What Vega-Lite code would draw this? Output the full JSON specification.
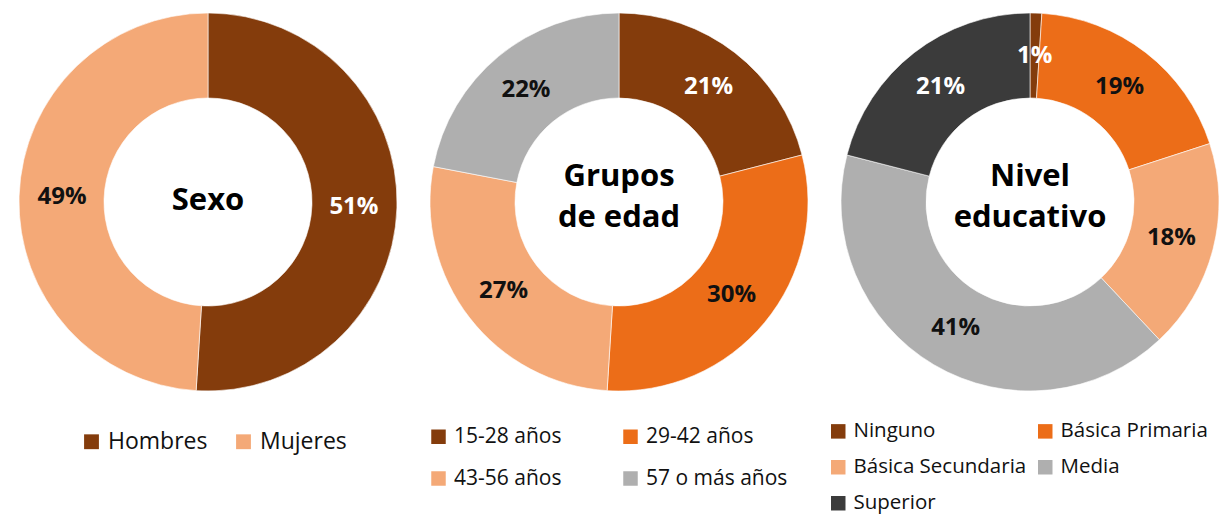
{
  "$schema": "https://vega.github.io/schema/vega-lite/v6.json",
  "width": 1219,
  "height": 404,
  "padding": 0,
  "autosize": {"type": "pad"},
  "background": "white",
  "config": {"view": {"stroke": null}, "font": "Open Sans"},
  "datasets": {
    "d": [
      {"chart": "Sexo", "cat": "Hombres", "value": 0.51, "o": 1},
      {"chart": "Sexo", "cat": "Mujeres", "value": 0.49, "o": 2},
      {"chart": "Grupos", "cat": "15-28 años", "value": 0.21, "o": 1},
      {"chart": "Grupos", "cat": "29-42 años", "value": 0.30, "o": 2},
      {"chart": "Grupos", "cat": "43-56 años", "value": 0.27, "o": 3},
      {"chart": "Grupos", "cat": "57 o más años", "value": 0.22, "o": 4},
      {"chart": "Nivel", "cat": "Ninguno", "value": 0.01, "o": 1},
      {"chart": "Nivel", "cat": "Básica Primaria", "value": 0.19, "o": 2},
      {"chart": "Nivel", "cat": "Básica Secundaria", "value": 0.18, "o": 3},
      {"chart": "Nivel", "cat": "Media", "value": 0.41, "o": 4},
      {"chart": "Nivel", "cat": "Superior", "value": 0.21, "o": 5}
    ],
    "titles1": [
      {"chart": "Sexo", "t": "Sexo"}
    ],
    "titles2": [
      {"chart": "Grupos", "t": "Grupos\nde edad"},
      {"chart": "Nivel", "t": "Nivel\neducativo"}
    ]
  },
  "encoding": {
    "x": {"field": "chart", "type": "nominal", "axis": null,
          "scale": {"type": "point", "domain": ["Sexo", "Grupos", "Nivel"], "range": [208, 1030], "padding": 0}}
  },
  "layer": [
    {
      "data": {"name": "d"},
      "transform": [{"filter": "datum.chart === 'Sexo'"}],
      "mark": {"type": "arc", "radius": 189, "innerRadius": 104, "stroke": "white", "strokeWidth": 0.6},
      "encoding": {
        "theta": {"field": "value", "type": "quantitative", "stack": true},
        "order": {"field": "o", "type": "quantitative"},
        "color": {"field": "cat", "type": "nominal",
          "scale": {"domain": ["Hombres", "Mujeres"], "range": ["#843C0C", "#F4A977"]},
          "legend": {"title": null, "orient": "none", "legendX": 80, "legendY": 430, "direction": "horizontal", "columns": 2,
            "symbolType": "square", "symbolSize": 220, "symbolStrokeWidth": 0, "labelFontSize": 23, "labelFont": "Open Sans", "labelColor": "#111111",
            "labelOffset": 5, "columnPadding": 24, "labelLimit": 300}}
      }
    },
    {
      "data": {"name": "d"},
      "transform": [{"filter": "datum.chart === 'Grupos'"}],
      "mark": {"type": "arc", "radius": 189, "innerRadius": 104, "stroke": "white", "strokeWidth": 0.6},
      "encoding": {
        "theta": {"field": "value", "type": "quantitative", "stack": true},
        "order": {"field": "o", "type": "quantitative"},
        "color": {"field": "cat", "type": "nominal",
          "scale": {"domain": ["15-28 años", "29-42 años", "43-56 años", "57 o más años"], "range": ["#843C0C", "#EC6D18", "#F4A977", "#AFAFAF"]},
          "legend": {"title": null, "orient": "none", "legendX": 428, "legendY": 426, "direction": "horizontal", "columns": 2,
            "symbolType": "square", "symbolSize": 210, "symbolStrokeWidth": 0, "labelFontSize": 21, "labelFont": "Open Sans", "labelColor": "#111111",
            "labelOffset": 5, "columnPadding": 58, "rowPadding": 20, "labelLimit": 300}}
      }
    },
    {
      "data": {"name": "d"},
      "transform": [{"filter": "datum.chart === 'Nivel'"}],
      "mark": {"type": "arc", "radius": 189, "innerRadius": 104, "stroke": "white", "strokeWidth": 0.6},
      "encoding": {
        "theta": {"field": "value", "type": "quantitative", "stack": true},
        "order": {"field": "o", "type": "quantitative"},
        "color": {"field": "cat", "type": "nominal",
          "scale": {"domain": ["Ninguno", "Básica Primaria", "Básica Secundaria", "Media", "Superior"], "range": ["#843C0C", "#EC6D18", "#F4A977", "#AFAFAF", "#3B3B3B"]},
          "legend": {"title": null, "orient": "none", "legendX": 828, "legendY": 421, "direction": "horizontal", "columns": 2,
            "symbolType": "square", "symbolSize": 210, "symbolStrokeWidth": 0, "labelFontSize": 20.5, "labelFont": "Open Sans", "labelColor": "#111111",
            "labelOffset": 5, "columnPadding": 8, "rowPadding": 15, "labelLimit": 300}}
      }
    },
    {
      "data": {"name": "d"},
      "transform": [{"filter": "datum.chart === 'Sexo'"}],
      "mark": {"type": "text", "radius": 146, "fontSize": 24, "fontWeight": "bold", "font": "Open Sans"},
      "encoding": {
        "theta": {"field": "value", "type": "quantitative", "stack": true},
        "order": {"field": "o", "type": "quantitative"},
        "detail": {"field": "cat", "type": "nominal"},
        "text": {"field": "value", "type": "quantitative", "format": ".0%"},
        "color": {"condition": {"test": "datum.cat === 'Hombres'", "value": "white"}, "value": "#111111"}
      }
    },
    {
      "data": {"name": "d"},
      "transform": [{"filter": "datum.chart === 'Grupos'"}],
      "mark": {"type": "text", "radius": 146, "fontSize": 24, "fontWeight": "bold", "font": "Open Sans"},
      "encoding": {
        "theta": {"field": "value", "type": "quantitative", "stack": true},
        "order": {"field": "o", "type": "quantitative"},
        "detail": {"field": "cat", "type": "nominal"},
        "text": {"field": "value", "type": "quantitative", "format": ".0%"},
        "color": {"condition": {"test": "datum.cat === '15-28 años'", "value": "white"}, "value": "#111111"}
      }
    },
    {
      "data": {"name": "d"},
      "transform": [{"filter": "datum.chart === 'Nivel'"}],
      "mark": {"type": "text", "radius": 146, "fontSize": 24, "fontWeight": "bold", "font": "Open Sans"},
      "encoding": {
        "theta": {"field": "value", "type": "quantitative", "stack": true},
        "order": {"field": "o", "type": "quantitative"},
        "detail": {"field": "cat", "type": "nominal"},
        "text": {"field": "value", "type": "quantitative", "format": ".0%"},
        "color": {"condition": {"test": "datum.cat === 'Ninguno' || datum.cat === 'Superior'", "value": "white"}, "value": "#111111"}
      }
    },
    {
      "data": {"name": "titles1"},
      "mark": {"type": "text", "fontSize": 31, "fontWeight": "bold", "font": "Open Sans", "baseline": "middle", "align": "center", "color": "#000000", "dy": -1},
      "encoding": {
        "text": {"field": "t", "type": "nominal"}
      }
    },
    {
      "data": {"name": "titles2"},
      "mark": {"type": "text", "fontSize": 31, "fontWeight": "bold", "font": "Open Sans", "lineBreak": "\n", "lineHeight": 41, "baseline": "middle", "align": "center", "color": "#000000", "dy": -25},
      "encoding": {
        "text": {"field": "t", "type": "nominal"}
      }
    }
  ],
  "resolve": {"scale": {"color": "independent", "theta": "independent"}, "legend": {"color": "independent"}}
}
